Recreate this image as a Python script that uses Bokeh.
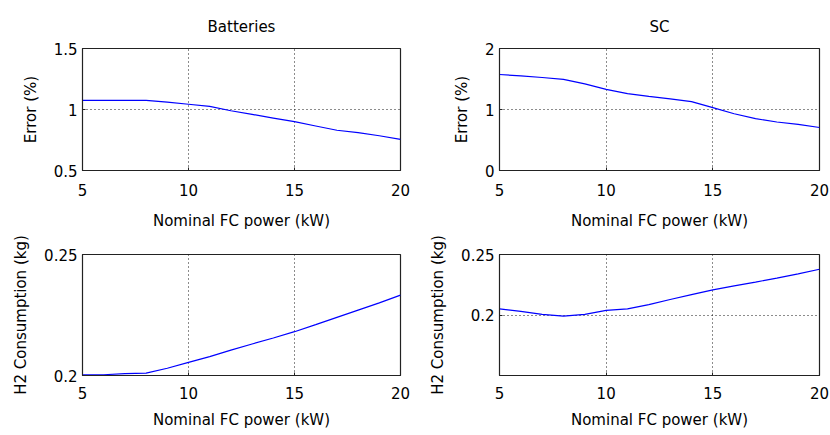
from bokeh.plotting import figure
from bokeh.layouts import column, row
from bokeh.models import Range1d, FixedTicker, CustomJSTickFormatter
from bokeh.embed import file_html
from bokeh.resources import INLINE

power_kw = [5, 6, 7, 8, 9, 10, 11, 12, 13, 14, 15, 16, 17, 18, 19, 20]
bat_error = [1.074, 1.074, 1.074, 1.074, 1.06, 1.043, 1.025, 0.99, 0.96, 0.93,
             0.90, 0.865, 0.83, 0.81, 0.785, 0.755]
sc_error = [1.574, 1.55, 1.525, 1.495, 1.42, 1.33, 1.26, 1.215, 1.175, 1.13,
            1.03, 0.93, 0.85, 0.795, 0.755, 0.705]
bat_h2 = [0.2003, 0.2003, 0.2008, 0.2010, 0.2030, 0.2054, 0.2078, 0.2105, 0.2130,
          0.2155, 0.2181, 0.2210, 0.2240, 0.2270, 0.2300, 0.2332]
sc_h2 = [0.2050, 0.2030, 0.2005, 0.1990, 0.2005, 0.2038, 0.2050, 0.2086, 0.2128,
         0.2168, 0.2208, 0.2240, 0.2272, 0.2305, 0.2340, 0.2378]

x_ticks = [5, 10, 15, 20]
FONT = "DejaVu Sans"
FS = "15px"


def make(y, yrange, yticks, ylabel, title, fw, fh, bl, br, bt, bb,
         xtick_standoff, xlab_standoff):
    p = figure(output_backend="svg", toolbar_location=None,
               frame_width=fw, frame_height=fh,
               min_border_left=bl, min_border_right=br,
               min_border_top=bt, min_border_bottom=bb,
               x_range=Range1d(5, 20), y_range=Range1d(*yrange),
               background_fill_color="white", border_fill_color="white")
    p.line(power_kw, y, line_color="#0000ff", line_width=1.2)
    p.outline_line_color = "#222222"
    p.outline_line_width = 1.2
    p.outline_line_alpha = 1
    fmt = CustomJSTickFormatter(code="return String(tick);")
    for ax, ticks in ((p.xaxis[0], x_ticks), (p.yaxis[0], yticks)):
        ax.ticker = FixedTicker(ticks=ticks)
        ax.formatter = fmt
        ax.major_tick_in = 3
        ax.major_tick_out = 0
        ax.minor_tick_in = 0
        ax.minor_tick_out = 0
        ax.axis_line_color = "#222222"
        ax.major_tick_line_color = "#222222"
        ax.major_label_text_font = FONT
        ax.major_label_text_font_size = FS
        ax.major_label_text_color = "black"
        ax.axis_label_text_font = FONT
        ax.axis_label_text_font_size = FS
        ax.axis_label_text_font_style = "normal"
        ax.axis_label_text_color = "black"
    p.xaxis.major_label_standoff = xtick_standoff
    p.xaxis.axis_label_standoff = xlab_standoff
    p.yaxis.major_label_standoff = 5
    p.yaxis.axis_label_standoff = 11
    p.xaxis.axis_label = "Nominal FC power (kW)"
    p.yaxis.axis_label = ylabel
    p.xgrid.ticker = FixedTicker(ticks=x_ticks)
    p.ygrid.ticker = FixedTicker(ticks=yticks)
    for g in (p.xgrid[0], p.ygrid[0]):
        g.grid_line_color = "black"
        g.grid_line_dash = "1 3"
        g.grid_line_width = 1
        g.grid_line_alpha = 0.9
    if title:
        p.title.text = title
        p.title.align = "center"
        p.title.text_font = FONT
        p.title.text_font_size = FS
        p.title.text_font_style = "normal"
        p.title.text_color = "black"
        p.title.standoff = 26
    return p


p1 = make(bat_error, (0.5, 1.5), [0.5, 1, 1.5], "Error (%)", "Batteries",
          318, 122, 82, 15, 48, 58, 13, 13)
p2 = make(sc_error, (0, 2), [0, 1, 2], "Error (%)", "SC",
          320, 122, 84, 11, 48, 58, 13, 13)
p3 = make(bat_h2, (0.2, 0.25), [0.2, 0.25], "H2 Consumption (kg)", None,
          318, 121, 82, 15, 22, 58, 11, 9)
p4 = make(sc_h2, (0.15, 0.25), [0.2, 0.25], "H2 Consumption (kg)", None,
          320, 121, 84, 11, 22, 58, 11, 9)

layout = column(row(p1, p2, spacing=0), row(p3, p4, spacing=0), spacing=0)
open("out.html", "w").write(file_html(layout, INLINE))
